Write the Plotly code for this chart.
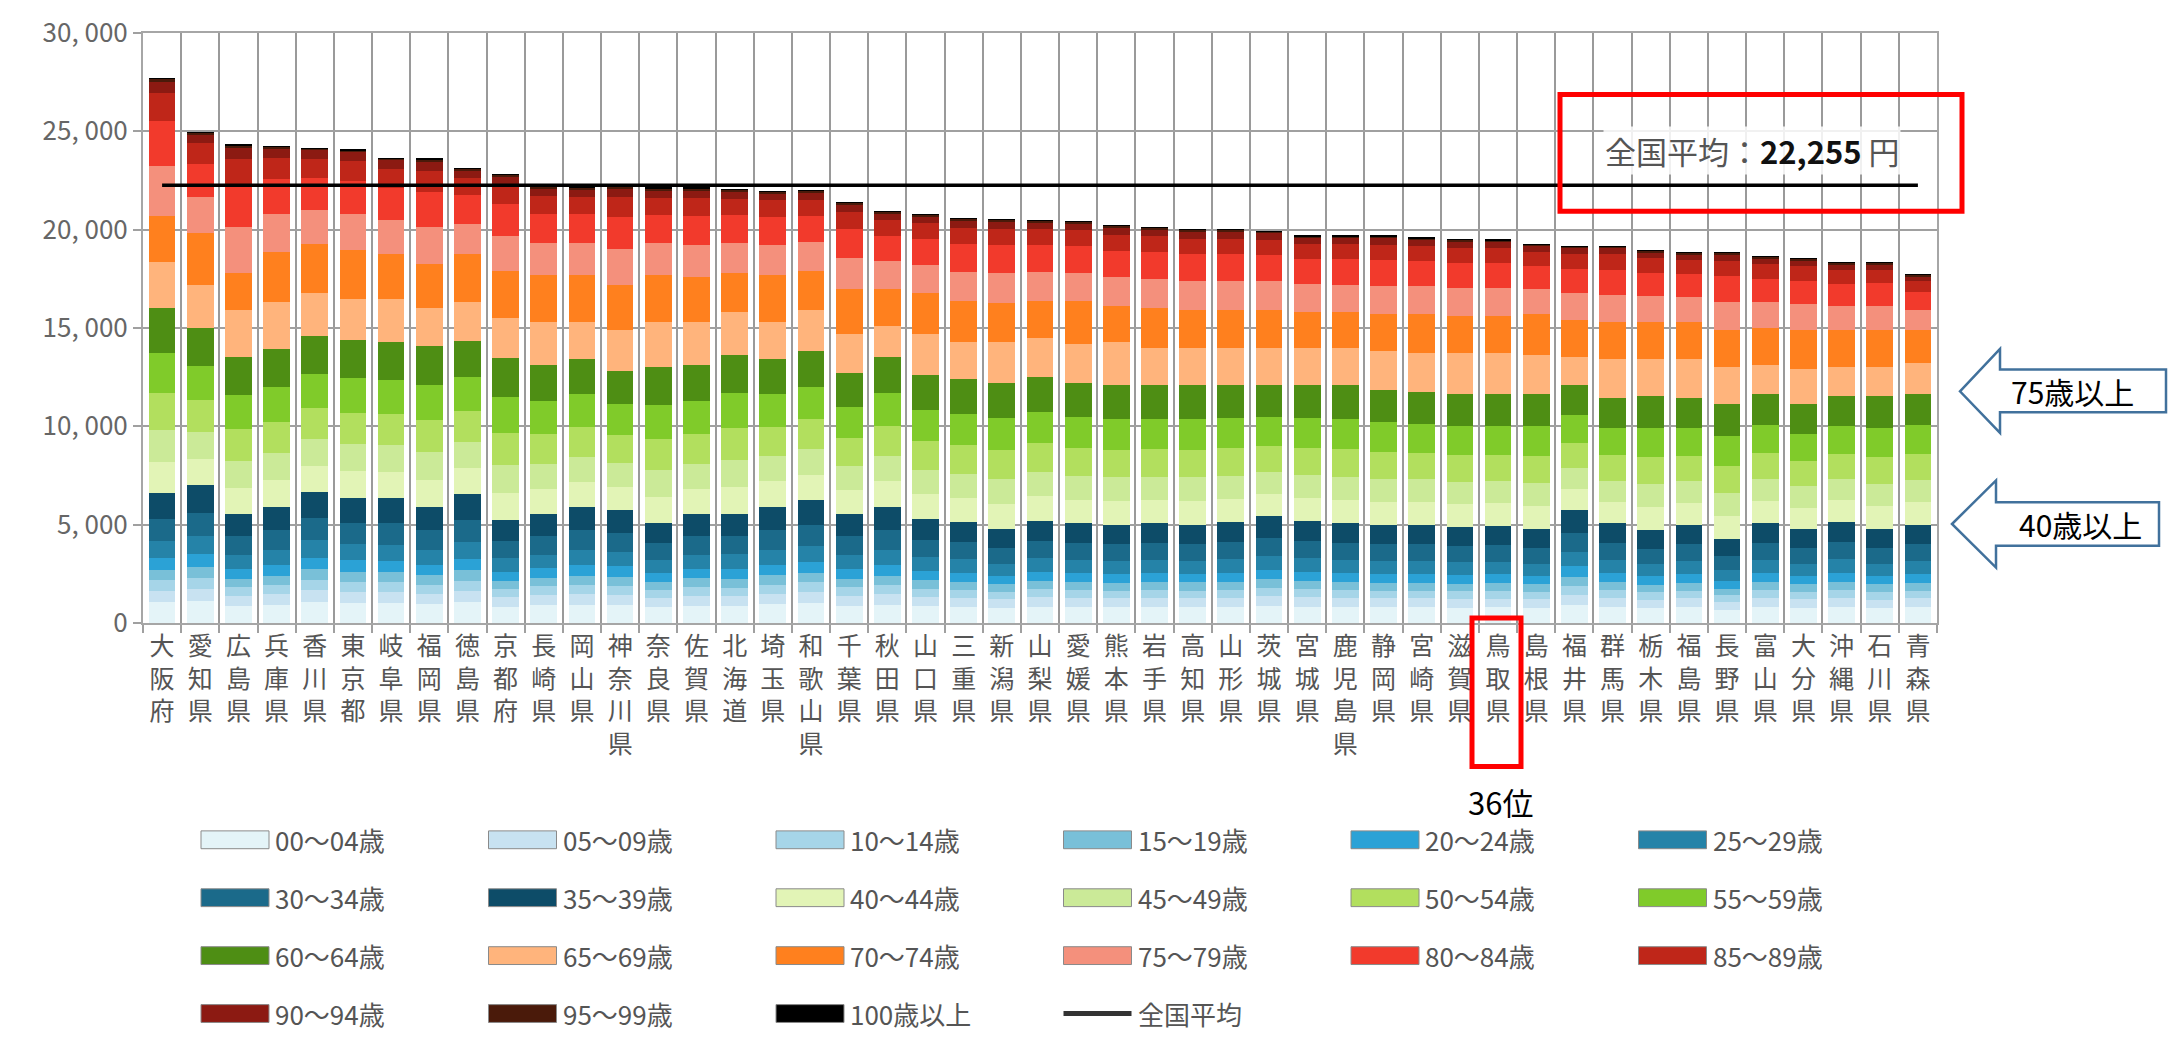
import plotly.graph_objects as go

prefs = ["大阪府", "愛知県", "広島県", "兵庫県", "香川県", "東京都", "岐阜県", "福岡県", "徳島県", "京都府",
         "長崎県", "岡山県", "神奈川県", "奈良県", "佐賀県", "北海道", "埼玉県", "和歌山県", "千葉県", "秋田県",
         "山口県", "三重県", "新潟県", "山梨県", "愛媛県", "熊本県", "岩手県", "高知県", "山形県", "茨城県",
         "宮城県", "鹿児島県", "静岡県", "宮崎県", "滋賀県", "鳥取県", "島根県", "福井県", "群馬県", "栃木県",
         "福島県", "長野県", "富山県", "大分県", "沖縄県", "石川県", "青森県"]

national_avg = 22255

a00 = [1060, 1120, 880, 940, 1070, 1020, 1000, 950, 1050, 830, 900, 930, 920, 810, 890, 870, 950, 1000, 880, 940,
       850, 820, 770, 830, 810, 800, 810, 790, 820, 870, 830, 810, 800, 810, 780, 790, 770, 920, 810, 760,
       800, 680, 820, 770, 820, 760, 800]
a05 = [590, 630, 500, 530, 600, 570, 580, 520, 590, 470, 510, 540, 520, 460, 500, 490, 530, 560, 500, 530,
       480, 460, 430, 470, 460, 450, 450, 460, 460, 490, 470, 460, 450, 440, 440, 440, 430, 520, 460, 430,
       450, 380, 460, 430, 460, 430, 450]
a10 = [530, 560, 440, 470, 530, 510, 510, 480, 520, 420, 450, 470, 460, 400, 440, 440, 470, 500, 440, 470,
       420, 410, 380, 420, 400, 400, 410, 400, 410, 430, 420, 400, 400, 400, 390, 400, 380, 460, 400, 380,
       400, 340, 410, 380, 410, 390, 400]
a15 = [530, 560, 440, 470, 530, 510, 500, 470, 520, 420, 440, 460, 460, 400, 440, 450, 470, 500, 440, 470,
       420, 410, 380, 420, 400, 400, 400, 410, 410, 430, 420, 400, 400, 400, 390, 390, 380, 460, 400, 380,
       400, 340, 410, 380, 410, 380, 400]
a20 = [590, 630, 500, 530, 600, 570, 560, 520, 590, 470, 480, 540, 520, 460, 490, 510, 530, 560, 500, 530,
       480, 460, 430, 470, 460, 450, 460, 440, 460, 490, 470, 460, 450, 460, 440, 450, 430, 520, 460, 420,
       450, 390, 460, 430, 460, 430, 450]
a25 = [860, 910, 720, 770, 870, 830, 820, 760, 850, 680, 700, 780, 740, 660, 710, 730, 770, 810, 720, 770,
       690, 670, 620, 680, 660, 650, 660, 650, 670, 700, 680, 660, 650, 640, 640, 640, 620, 740, 660, 610,
       650, 560, 660, 620, 670, 620, 650]
a30 = [1120, 1190, 940, 1000, 1130, 1080, 1090, 1010, 1120, 890, 930, 1000, 970, 860, 940, 940, 1010, 1070, 940, 1000,
       900, 880, 820, 890, 860, 850, 860, 850, 880, 920, 890, 860, 850, 850, 830, 840, 820, 970, 860, 800,
       850, 730, 860, 820, 880, 820, 850]
a35 = [1320, 1400, 1100, 1180, 1330, 1270, 1290, 1190, 1310, 1040, 1110, 1170, 1150, 1010, 1110, 1090, 1190, 1250, 1100, 1190,
       1070, 1030, 960, 1030, 1010, 1000, 1010, 1000, 1030, 1090, 1030, 1010, 1000, 1000, 980, 990, 960, 1140, 1010, 950,
       1000, 850, 1020, 960, 1030, 960, 1000]
a40 = [1600, 1360, 1360, 1370, 1340, 1360, 1350, 1390, 1330, 1400, 1290, 1280, 1200, 1350, 1290, 1380, 1280, 1290, 1220, 1300,
       1240, 1230, 1260, 1240, 1210, 1200, 1190, 1200, 1180, 1130, 1170, 1190, 1170, 1150, 1150, 1140, 1170, 1080, 1090, 1160,
       1100, 1170, 1120, 1080, 1090, 1150, 1130]
a45 = [1600, 1360, 1370, 1370, 1350, 1360, 1350, 1390, 1330, 1400, 1290, 1280, 1200, 1350, 1290, 1380, 1280, 1290, 1220, 1300,
       1240, 1230, 1260, 1240, 1210, 1200, 1190, 1210, 1180, 1130, 1170, 1190, 1170, 1150, 1150, 1140, 1170, 1080, 1090, 1160,
       1100, 1170, 1110, 1080, 1090, 1150, 1130]
a50 = [1880, 1600, 1600, 1610, 1580, 1600, 1580, 1630, 1560, 1650, 1520, 1510, 1420, 1590, 1520, 1620, 1500, 1520, 1440, 1530,
       1460, 1450, 1480, 1460, 1430, 1420, 1400, 1410, 1390, 1330, 1370, 1400, 1370, 1350, 1350, 1340, 1370, 1270, 1280, 1370,
       1290, 1370, 1310, 1270, 1280, 1350, 1330]
a55 = [2070, 1770, 1760, 1770, 1740, 1770, 1740, 1790, 1720, 1810, 1670, 1660, 1560, 1760, 1670, 1790, 1650, 1670, 1580, 1680,
       1600, 1600, 1630, 1600, 1570, 1560, 1550, 1560, 1530, 1470, 1510, 1550, 1510, 1490, 1490, 1480, 1510, 1400, 1410, 1500,
       1420, 1510, 1440, 1400, 1410, 1490, 1470]
a60 = [2250, 1930, 1930, 1940, 1900, 1930, 1900, 1960, 1870, 1970, 1830, 1810, 1700, 1910, 1830, 1950, 1810, 1830, 1730, 1830,
       1750, 1740, 1770, 1750, 1710, 1700, 1690, 1700, 1660, 1600, 1650, 1690, 1650, 1630, 1620, 1620, 1650, 1520, 1530, 1640,
       1550, 1650, 1580, 1520, 1550, 1630, 1600]
a65 = [2350, 2190, 2400, 2390, 2190, 2090, 2190, 1980, 1980, 2060, 2190, 1870, 2080, 2290, 2190, 2190, 1870, 2050, 1980, 1560,
       2090, 1880, 2080, 1980, 1980, 2190, 1880, 1880, 1880, 1880, 1880, 1880, 1980, 1980, 2090, 2090, 1980, 1460, 1980, 1880,
       1980, 1880, 1460, 1770, 1460, 1460, 1570]
a70 = [2350, 2600, 1870, 2500, 2500, 2500, 2290, 2190, 2400, 2400, 2400, 2400, 2300, 2400, 2290, 1980, 2400, 2000, 2290, 1880,
       2080, 2080, 1980, 1870, 2180, 1870, 2080, 1980, 1980, 1980, 1870, 1870, 1880, 1980, 1870, 1870, 2090, 1880, 1870, 1870,
       1870, 1880, 1880, 1990, 1880, 1880, 1670]
a75 = [2520, 1850, 2340, 1940, 1760, 1840, 1760, 1930, 1570, 1770, 1610, 1610, 1800, 1590, 1630, 1520, 1530, 1470, 1590, 1420,
       1440, 1520, 1540, 1490, 1460, 1460, 1470, 1460, 1450, 1440, 1390, 1380, 1420, 1390, 1400, 1390, 1270, 1350, 1390, 1310,
       1270, 1420, 1310, 1310, 1230, 1240, 1010]
a80 = [2310, 1700, 2140, 1780, 1610, 1680, 1610, 1770, 1440, 1620, 1480, 1470, 1650, 1450, 1490, 1400, 1400, 1350, 1450, 1300,
       1320, 1390, 1410, 1360, 1340, 1340, 1330, 1340, 1350, 1320, 1270, 1280, 1300, 1270, 1290, 1270, 1170, 1230, 1270, 1200,
       1170, 1300, 1200, 1200, 1130, 1130, 930]
a85 = [1400, 1030, 1300, 1070, 980, 1020, 980, 1070, 880, 980, 890, 900, 1000, 880, 900, 850, 850, 810, 880, 790,
       800, 840, 850, 830, 810, 810, 820, 810, 810, 800, 770, 770, 790, 770, 780, 770, 710, 750, 770, 730,
       710, 790, 730, 730, 690, 680, 560]
a90 = [600, 440, 550, 460, 420, 430, 420, 460, 370, 420, 380, 380, 420, 380, 390, 360, 360, 350, 380, 340,
       340, 360, 360, 350, 350, 350, 340, 350, 350, 340, 330, 330, 340, 330, 330, 330, 300, 320, 330, 310,
       300, 340, 310, 310, 290, 290, 240]
a95 = [150, 110, 150, 120, 110, 110, 110, 120, 100, 110, 100, 100, 110, 100, 100, 90, 90, 90, 100, 90,
       90, 90, 100, 90, 90, 90, 90, 90, 90, 80, 80, 80, 90, 80, 90, 90, 80, 80, 80, 80,
       80, 90, 80, 80, 80, 80, 60]
a100 = [20, 10, 20, 10, 10, 20, 10, 20, 10, 10, 10, 10, 10, 10, 10, 10, 10, 10, 10, 10,
        10, 10, 10, 10, 10, 10, 10, 10, 10, 10, 10, 10, 10, 10, 10, 10, 10, 10, 10, 10,
        10, 10, 10, 10, 10, 10, 10]

age_labels = ["00～04歳", "05～09歳", "10～14歳", "15～19歳", "20～24歳", "25～29歳",
              "30～34歳", "35～39歳", "40～44歳", "45～49歳", "50～54歳", "55～59歳",
              "60～64歳", "65～69歳", "70～74歳", "75～79歳", "80～84歳", "85～89歳",
              "90～94歳", "95～99歳", "100歳以上"]
avg_label = "全国平均"
series = [a00, a05, a10, a15, a20, a25, a30, a35, a40, a45, a50, a55, a60,
          a65, a70, a75, a80, a85, a90, a95, a100]
colors = ["#e4f4f8", "#c8e2f1", "#a6d5e8", "#79c0d8", "#2ba2d6", "#2583a8", "#1b6a8a", "#0d4c68",
          "#e2f4b6", "#cbea98", "#b2df5e", "#80cb2a", "#4e8e14",
          "#ffb47c", "#ff801e", "#f4907c", "#f23a2c", "#bf2619", "#8c1a12", "#4a1a0a", "#000000"]

y_tickvals = [0, 5000, 10000, 15000, 20000, 25000, 30000]
y_ticktext = ["0", "5, 000", "10, 000", "15, 000", "20, 000", "25, 000", "30, 000"]

FONT = "Noto Sans CJK JP"

fig = go.Figure()
for name, vals, col in zip(age_labels, series, colors):
    fig.add_trace(go.Bar(x=prefs, y=vals, name=name, marker=dict(color=col, line=dict(width=0))))
fig.add_trace(go.Scatter(x=prefs, y=[national_avg] * len(prefs), mode="lines", name=avg_label,
                         line=dict(color="black", width=3.5)))

# plot area in pixels
L, R, T, B = 143, 1937, 27, 623


def px(x):
    return (x - L) / (R - L)


def py(y):
    return (B - y) / (B - T)


fig.update_layout(
    width=2176, height=1042, autosize=False,
    margin=dict(l=L, r=2176 - R, t=T, b=1042 - B, pad=0),
    paper_bgcolor="white", plot_bgcolor="white",
    barmode="stack", bargap=0.3, showlegend=False,
    font=dict(family=FONT, color="#555555"),
)
fig.update_xaxes(
    tickmode="array", tickvals=prefs, ticktext=["<br>".join(p) for p in prefs],
    tickangle=0, tickfont=dict(size=25, color="#555555", family=FONT),
    tickson="boundaries", ticks="outside", ticklen=8, tickcolor="#a0a0a0", tickwidth=2,
    showgrid=True, gridcolor="#9a9a9a", gridwidth=2,
    showline=True, linecolor="#a6a6a6", linewidth=2, mirror=True,
)
fig.update_yaxes(
    range=[0, 30000], tickvals=y_tickvals, ticktext=y_ticktext,
    tickfont=dict(size=26, color="#666666", family=FONT),
    ticks="outside", ticklen=8, tickcolor="#a0a0a0", tickwidth=2,
    showgrid=True, gridcolor="#a0a0a0", gridwidth=2,
    showline=True, linecolor="#a6a6a6", linewidth=2, mirror=True, zeroline=False,
)

shapes = []
annotations = []

# custom legend (6 columns x 4 rows)
legend_items = list(zip(age_labels, colors)) + [(avg_label, None)]
for i, (name, col) in enumerate(legend_items):
    c, r = i % 6, i // 6
    x0 = 201 + c * 287.5
    yc = 842 + r * 58.5
    if col is not None:
        shapes.append(dict(type="rect", xref="paper", yref="paper",
                           x0=px(x0), x1=px(x0 + 68), y0=py(yc + 9), y1=py(yc - 9),
                           fillcolor=col, line=dict(color="#8a8a8a", width=1)))
    else:
        shapes.append(dict(type="line", xref="paper", yref="paper",
                           x0=px(x0), x1=px(x0 + 68), y0=py(yc), y1=py(yc),
                           line=dict(color="#333333", width=5)))
    annotations.append(dict(xref="paper", yref="paper", x=px(x0 + 72), y=py(yc),
                            xanchor="left", yanchor="middle", showarrow=False,
                            text=name, font=dict(size=26, color="#555555", family=FONT)))

# red box around national average label
shapes.append(dict(type="rect", xref="paper", yref="paper",
                   x0=px(1560), x1=px(1962), y0=py(207), y1=py(89),
                   line=dict(color="#ff0000", width=5), fillcolor="rgba(0,0,0,0)"))
annotations.append(dict(xref="paper", yref="paper", x=px(1752), y=py(146),
                        xanchor="center", yanchor="middle", showarrow=False,
                        text="全国平均：<b><span style='color:#111'>22,255</span></b> 円",
                        bgcolor="rgba(255,255,255,0.85)",
                        font=dict(size=31, color="#555555", family=FONT)))

# red box around 鳥取県 and rank text
shapes.append(dict(type="rect", xref="paper", yref="paper",
                   x0=px(1472), x1=px(1521), y0=py(768), y1=py(618),
                   line=dict(color="#ff0000", width=5), fillcolor="rgba(0,0,0,0)"))
annotations.append(dict(xref="paper", yref="paper", x=px(1500), y=py(803),
                        xanchor="center", yanchor="middle", showarrow=False,
                        text="36位", font=dict(size=31, color="black", family=FONT)))


# callout arrows
def arrow_path(tip_x, tip_y, neck_x, head_top, head_bot, body_top, body_bot, right):
    pts = [(tip_x, tip_y), (neck_x, head_top), (neck_x, body_top), (right, body_top),
           (right, body_bot), (neck_x, body_bot), (neck_x, head_bot)]
    return "M " + " L ".join(f"{px(x):.5f},{py(y):.5f}" for x, y in pts) + " Z"


for (tip_x, tip_y, neck_x, ht, hb, bt, bb, right, label, tx) in [
    (1960, 389, 2000, 346, 431, 367, 410, 2166, "75歳以上", 2072),
    (1952, 523, 1996, 479, 567, 501, 545, 2159, "40歳以上", 2080),
]:
    shapes.append(dict(type="path", xref="paper", yref="paper",
                       path=arrow_path(tip_x, tip_y, neck_x, ht, hb, bt, bb, right),
                       fillcolor="white", line=dict(color="#41719c", width=2.5)))
    annotations.append(dict(xref="paper", yref="paper", x=px(tx), y=py(tip_y),
                            xanchor="center", yanchor="middle", showarrow=False,
                            text=label, font=dict(size=30, color="black", family=FONT)))

fig.update_layout(shapes=shapes, annotations=annotations)

fig.write_html("out.html", config={"displayModeBar": False},
               post_script="document.body.style.margin='0';document.body.style.overflow='hidden';")
